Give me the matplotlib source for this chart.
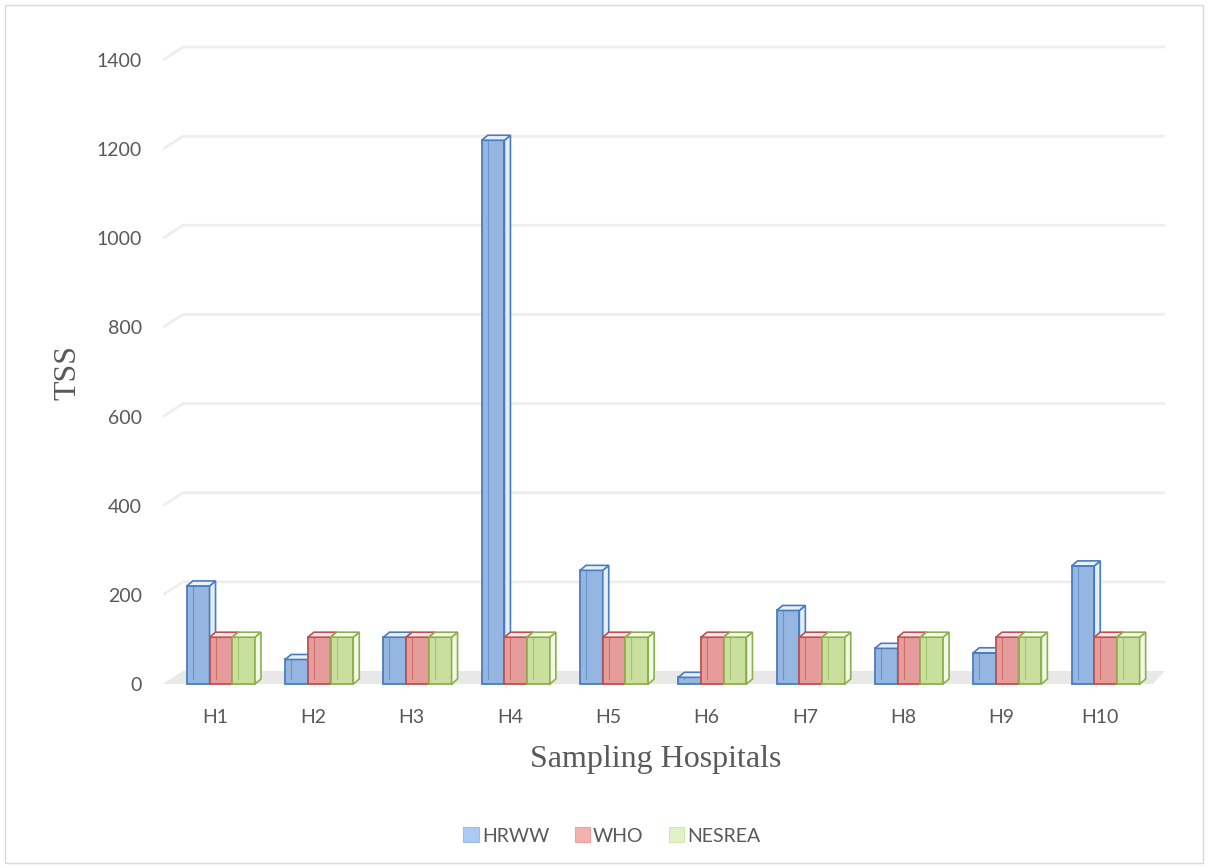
import matplotlib
matplotlib.use('Agg')
import matplotlib.pyplot as plt
from matplotlib.patches import Polygon, Patch, Rectangle

# TSS per sampling hospital against the WHO and NESREA limits
hospitals = ['H1', 'H2', 'H3', 'H4', 'H5', 'H6', 'H7', 'H8', 'H9', 'H10']
hrww = [220, 55, 105, 1220, 255, 15, 165, 80, 70, 265]
who = [105, 105, 105, 105, 105, 105, 105, 105, 105, 105]
nesrea = [105, 105, 105, 105, 105, 105, 105, 105, 105, 105]
series_names = ['HRWW', 'WHO', 'NESREA']
yticks = [0, 200, 400, 600, 800, 1000, 1200, 1400]

fills = ['#95B6E0', '#E59D9B', '#C9DF9E']
edges = ['#4A7CC0', '#C0504D', '#8DB04E']
legend_fills = ['#ABCBF2', '#F5B1B0', '#E3F1C6']
legend_edges = ['#9DBDE6', '#EBA3A2', '#D4E6B1']

W, H = 1209, 868
XPX = 98.3      # pixels per category
YPX = 0.4457    # pixels per TSS unit


def fx(px):
    return px / W


def fy(py):
    return 1 - py / H


def ddx(px):
    return px / XPX


def ddy(px):
    return px / YPX


def blend(c, amount):
    r, g, b = matplotlib.colors.to_rgb(c)
    return (r + (1 - r) * amount, g + (1 - g) * amount, b + (1 - b) * amount)


plt.rcParams['font.family'] = ['Lato', 'DejaVu Sans']
fig = plt.figure(figsize=(W / 100, H / 100), dpi=100)
ax = fig.add_axes([fx(163), fy(690), fx(1185) - fx(163), fy(30) - fy(690)])
ax.set_xlim((163 - 215) / XPX, (1185 - 215) / XPX)
ax.set_ylim(-(690 - 684) / YPX, (684 - 30) / YPX)
for s in ax.spines.values():
    s.set_visible(False)

xl = (163 - 215) / XPX
xr = (1165 - 215) / XPX
wall_dx, wall_dy = ddx(20), ddy(13)

# back wall gridlines with the slanted piece on the side wall
for v in yticks[1:]:
    ax.plot([xl, xl + wall_dx, xr], [v, v + wall_dy, v + wall_dy],
            color='#EEEEEE', lw=2, zorder=1, solid_capstyle='butt')

# floor
floor = Polygon([(xl, 0), (xr - wall_dx * 0.6, 0), (xr, wall_dy),
                 (xl + wall_dx, wall_dy)], closed=True,
                facecolor='#E8E8E8', edgecolor='none', zorder=1)
ax.add_patch(floor)

# 3D-looking clustered columns
bw = 0.231
bar_dx, bar_dy = ddx(6), ddy(5)
shift = 0.06
for j, vals in enumerate([hrww, who, nesrea]):
    xs = [i + shift + (j - 1) * bw for i in range(len(hospitals))]
    z = 3 + j
    ax.bar(xs, vals, width=bw, color=fills[j], edgecolor=edges[j],
           linewidth=1.3, zorder=z)
    for x, v in zip(xs, vals):
        left, right = x - bw / 2, x + bw / 2
        # hidden back edge seen through the column
        ax.plot([left + bar_dx, left + bar_dx], [bar_dy, v + bar_dy],
                color=edges[j], lw=0.8, alpha=0.6, zorder=z)
        side = Polygon([(right, 0), (right + bar_dx, bar_dy),
                        (right + bar_dx, v + bar_dy), (right, v)], closed=True,
                       facecolor=blend(fills[j], 0.75), edgecolor=edges[j],
                       lw=1.2, zorder=z)
        top = Polygon([(left, v), (right, v), (right + bar_dx, v + bar_dy),
                       (left + bar_dx, v + bar_dy)], closed=True,
                      facecolor=blend(fills[j], 0.8), edgecolor=edges[j],
                      lw=1.2, zorder=z)
        ax.add_patch(side)
        ax.add_patch(top)

ax.set_xticks(range(len(hospitals)))
ax.set_xticklabels(hospitals)
ax.set_yticks(yticks)
ax.set_yticklabels([str(t) for t in yticks])
ax.tick_params(axis='both', length=0, labelsize=14, colors='#595959')
ax.tick_params(axis='y', pad=15)
ax.tick_params(axis='x', pad=14)

fig.text(fx(68), fy(372), 'TSS', rotation=90, ha='center', va='center',
         family='Liberation Serif', fontsize=23, color='#595959')
fig.text(fx(656), fy(760), 'Sampling Hospitals', ha='center', va='center',
         family='Liberation Serif', fontsize=23, color='#595959')

handles = [Patch(facecolor=legend_fills[k], edgecolor=legend_edges[k], lw=0.8)
           for k in range(3)]
leg = fig.legend(handles, series_names, loc='center', ncol=3,
                 bbox_to_anchor=(fx(612), fy(836)), frameon=False,
                 fontsize=14, handlelength=0.8, handleheight=0.8,
                 handletextpad=0.15, columnspacing=1.3)
for t in leg.get_texts():
    t.set_color('#595959')

fig.patches.append(Rectangle((fx(5), fy(863)), fx(1203) - fx(5), fy(5) - fy(863),
                             transform=fig.transFigure, fill=False,
                             edgecolor='#D9D9D9', lw=1))

fig.savefig('out.png', dpi=100)
plt.close(fig)
